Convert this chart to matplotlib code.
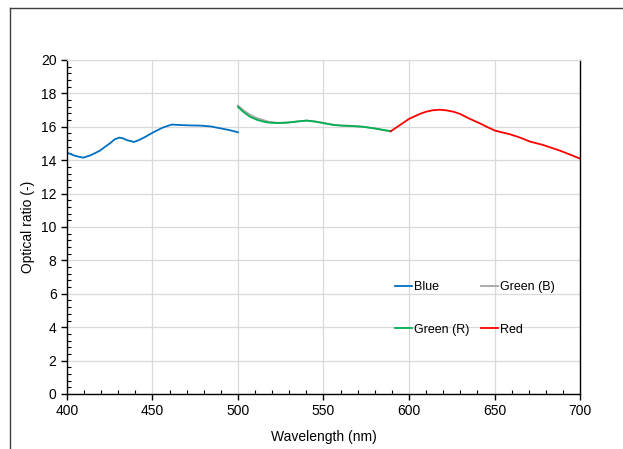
import matplotlib.pyplot as plt
from matplotlib.lines import Line2D
from matplotlib.ticker import MultipleLocator

plt.rcParams['font.family'] = ['Liberation Sans', 'DejaVu Sans']
plt.rcParams['font.size'] = 10

# values
blue_x = [400, 405, 409.5, 414, 419.3, 422, 425, 428, 430.6, 433, 435, 439.2, 442, 445, 450.5, 456, 461.2, 467, 472, 477.8, 484, 489.5, 495, 500]
blue_y = [14.45, 14.25, 14.15, 14.3, 14.57, 14.78, 15.0, 15.25, 15.35, 15.3, 15.2, 15.09, 15.2, 15.35, 15.67, 15.95, 16.13, 16.1, 16.08, 16.07, 16.02, 15.91, 15.8, 15.67]

greenb_x = [500, 503, 507, 511, 514.8, 518, 522.6, 526, 530.4, 535, 540.2, 545, 549.9, 556, 561.6, 565.5, 573, 580, 589.3]
greenb_y = [17.27, 17.0, 16.72, 16.52, 16.4, 16.3, 16.24, 16.24, 16.27, 16.32, 16.37, 16.32, 16.23, 16.12, 16.07, 16.06, 16.0, 15.9, 15.73]

greenr_x = [500, 503, 507, 511, 514.8, 518, 522.6, 526, 530.4, 535, 540.2, 545, 549.9, 556, 561.6, 565.5, 573, 580, 589.3]
greenr_y = [17.19, 16.9, 16.6, 16.42, 16.31, 16.25, 16.22, 16.23, 16.26, 16.32, 16.37, 16.31, 16.22, 16.1, 16.06, 16.05, 16.0, 15.9, 15.73]

red_x = [589.3, 594.7, 600, 606.4, 610, 614, 618, 622, 626, 629.8, 635, 641.5, 646, 650.3, 655, 659, 665, 670.8, 678.4, 688.3, 693, 699.6]
red_y = [15.73, 16.1, 16.47, 16.77, 16.9, 16.99, 17.02, 16.98, 16.9, 16.77, 16.5, 16.2, 15.97, 15.77, 15.65, 15.55, 15.35, 15.11, 14.91, 14.57, 14.38, 14.11]

fig = plt.figure(figsize=(6.23, 4.49), dpi=100)
ax = fig.add_axes([0.1075, 0.1225, 0.8235, 0.744])

l_blue, = ax.plot(blue_x, blue_y, color='#0070C0', lw=1.3, label='Blue')
l_gb, = ax.plot(greenb_x, greenb_y, color='#A5A5A5', lw=1.3, label='Green (B)')
l_gr, = ax.plot(greenr_x, greenr_y, color='#00B050', lw=1.3, label='Green (R)')
l_red, = ax.plot(red_x, red_y, color='#FF0000', lw=1.3, label='Red')

ax.set_xlim(400, 700)
ax.set_ylim(0, 20)
ax.xaxis.set_major_locator(MultipleLocator(50))
ax.xaxis.set_minor_locator(MultipleLocator(10))
ax.yaxis.set_major_locator(MultipleLocator(2))
ax.yaxis.set_minor_locator(MultipleLocator(0.4))
ax.tick_params(which='major', direction='out', length=4, width=1, color='black')
ax.tick_params(which='minor', direction='in', length=3, width=0.8, color='black')
ax.grid(True, which='major', color='#d9d9d9', lw=0.9)
ax.set_axisbelow(True)

for s in ['left', 'bottom', 'right']:
    ax.spines[s].set_color('black')
    ax.spines[s].set_linewidth(1)
ax.spines['top'].set_color('#d9d9d9')

ax.set_xlabel('Wavelength (nm)', labelpad=8)
ax.set_ylabel('Optical ratio (-)', labelpad=4)

# legend filled row by row: Blue, Green (B) / Green (R), Red
ax.legend([l_blue, l_gr, l_gb, l_red], ['Blue', 'Green (R)', 'Green (B)', 'Red'],
          ncol=2, frameon=False, loc='upper left', bbox_to_anchor=(0.639, 0.338),
          borderaxespad=0, borderpad=0, handlelength=1.4, handletextpad=0.1,
          columnspacing=0.95, labelspacing=2.45, fontsize=9)

# outer chart frame
fig.add_artist(Line2D([0.016, 1.0], [0.982, 0.982], color='#404040', lw=1))
fig.add_artist(Line2D([0.016, 0.016], [0.0, 0.982], color='#404040', lw=1))

fig.savefig('out.png', dpi=100)
